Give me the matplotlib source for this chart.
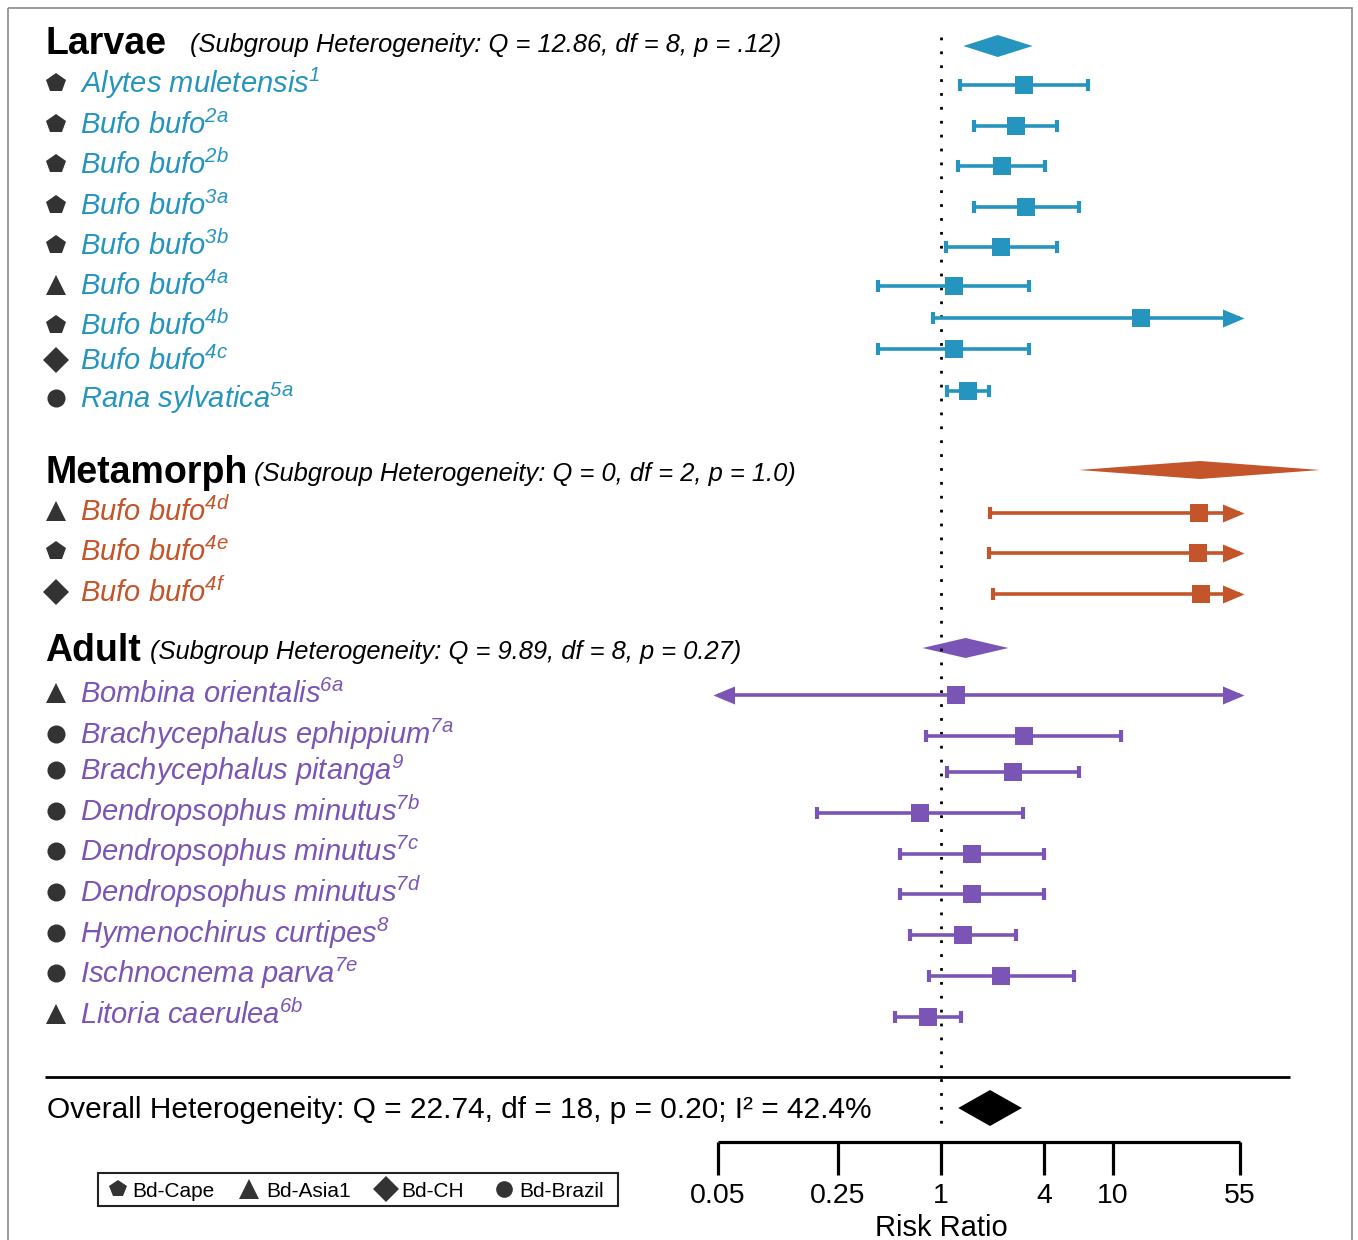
import numpy as np
import matplotlib
matplotlib.use("Agg")
import matplotlib.pyplot as plt
from matplotlib.path import Path
from matplotlib.patches import Rectangle

plt.rcParams['font.family'] = ['Liberation Sans', 'DejaVu Sans']
plt.rcParams['mathtext.fontset'] = 'custom'
plt.rcParams['mathtext.rm'] = 'Liberation Sans:italic'
plt.rcParams['mathtext.it'] = 'Liberation Sans:italic'

# ---- data (risk ratios) ----
groups = ["Larvae", "Metamorph", "Adult"]
group_het = ["(Subgroup Heterogeneity: Q = 12.86, df = 8, p = .12)",
             "(Subgroup Heterogeneity: Q = 0, df = 2, p = 1.0)",
             "(Subgroup Heterogeneity: Q = 9.89, df = 8, p = 0.27)"]
group_rr = [2.14, 32.3, 1.39]
group_lo = [1.35, 6.35, 0.78]
group_hi = [3.42, 162.0, 2.47]

species = ["Alytes muletensis", "Bufo bufo", "Bufo bufo", "Bufo bufo", "Bufo bufo",
           "Bufo bufo", "Bufo bufo", "Bufo bufo", "Rana sylvatica",
           "Bufo bufo", "Bufo bufo", "Bufo bufo",
           "Bombina orientalis", "Brachycephalus ephippium", "Brachycephalus pitanga",
           "Dendropsophus minutus", "Dendropsophus minutus", "Dendropsophus minutus",
           "Hymenochirus curtipes", "Ischnocnema parva", "Litoria caerulea"]
refs = ["1", "2a", "2b", "3a", "3b", "4a", "4b", "4c", "5a",
        "4d", "4e", "4f",
        "6a", "7a", "9", "7b", "7c", "7d", "8", "7e", "6b"]
group_of = [0] * 9 + [1] * 3 + [2] * 9
strain = ["Cape", "Cape", "Cape", "Cape", "Cape", "Asia1", "Cape", "CH", "Brazil",
          "Asia1", "Cape", "CH",
          "Asia1", "Brazil", "Brazil", "Brazil", "Brazil", "Brazil", "Brazil", "Brazil", "Asia1"]
rr = [3.03, 2.72, 2.26, 3.14, 2.24, 1.19, 14.6, 1.19, 1.43,
      31.9, 31.5, 32.9,
      1.22, 3.03, 2.62, 0.755, 1.51, 1.51, 1.34, 2.25, 0.836]
lo = [1.29, 1.56, 1.26, 1.56, 1.07, 0.431, 0.895, 0.431, 1.08,
      1.94, 1.91, 2.01,
      0.0, 0.818, 1.08, 0.189, 0.577, 0.577, 0.66, 0.851, 0.542]
hi = [7.16, 4.74, 4.02, 6.37, 4.72, 3.26, np.inf, 3.26, 1.90,
      np.inf, np.inf, np.inf,
      np.inf, 11.2, 6.35, 2.99, 3.98, 3.98, 2.75, 5.96, 1.31]

overall_rr, overall_lo, overall_hi = 1.93, 1.26, 2.96
overall_txt = "Overall Heterogeneity: Q = 22.74, df = 18, p = 0.20; I\u00b2 = 42.4%"

ticks = [0.05, 0.25, 1, 4, 10, 55]
tick_labels = ["0.05", "0.25", "1", "4", "10", "55"]
strain_names = ["Cape", "Asia1", "CH", "Brazil"]

# ---- layout (pixel rows) ----
W, H = 1358, 1240
X_ONE, PX_DEC = 941, 171.6           # pixel of RR=1, pixels per decade
header_base = [54, 483, 661]
subgroup_x = [190, 254, 150]
diamond_y = [46, 470, 648]
diamond_h = [11, 9, 10]
label_y = [83, 124, 164, 205, 245, 285, 325, 360, 398,
           511, 551, 592,
           693, 734, 770, 811, 851, 892, 933, 973, 1014]
mark_y = [85, 126, 166, 207, 247, 286, 318, 349, 391,
          513, 553, 594,
          695, 736, 772, 813, 854, 894, 935, 976, 1017]

colors = ["#2595bf", "#c4552a", "#7b55b5"]
dark = "#333333"
shape = {"Cape": "p", "Asia1": "^", "CH": "D", "Brazil": "o"}
shape_ms = {"Cape": 15, "Asia1": 15, "CH": 13, "Brazil": 13}

AX_MIN, AX_MAX = 0.05, 55
ARROW_LO, ARROW_HI = 0.047, 58
head_r = Path([(-1, -0.42), (0, 0), (-1, 0.42), (-1, -0.42)],
              [Path.MOVETO, Path.LINETO, Path.LINETO, Path.CLOSEPOLY])
head_l = Path([(1, -0.42), (0, 0), (1, 0.42), (1, -0.42)],
              [Path.MOVETO, Path.LINETO, Path.LINETO, Path.CLOSEPOLY])

fig = plt.figure(figsize=(W / 100, H / 100), dpi=100)
ax0 = fig.add_axes([0, 0, 1, 1])
ax0.set_xlim(0, W)
ax0.set_ylim(H, 0)
ax0.axis("off")

ax = fig.add_axes([0, 0, 1, 1])
ax.set_xscale("log")
ax.set_xlim(10 ** ((0 - X_ONE) / PX_DEC), 10 ** ((W - X_ONE) / PX_DEC))
ax.set_ylim(H, 0)
ax.axis("off")

# border
ax0.add_patch(Rectangle((8, 8), 1344, 1260, fill=False, ec="#8a8a8a", lw=1.2, clip_on=False))

# reference line
ax.vlines(1, 37, 1130, colors="black", linestyles=(0, (1, 4)), lw=2)

# group headers and summary diamonds
for g in range(3):
    ax0.text(45, header_base[g], groups[g], fontsize=27, fontweight="bold", va="baseline")
    ax0.text(subgroup_x[g], header_base[g] - 2, group_het[g], fontsize=18.4,
             style="italic", va="baseline")
    y, h = diamond_y[g], diamond_h[g]
    ax.fill([group_lo[g], group_rr[g], group_hi[g], group_rr[g]],
            [y, y - h, y, y + h], color=colors[g], lw=0)

# study rows
for i in range(len(species)):
    c = colors[group_of[i]]
    ax0.plot(56, label_y[i], marker=shape[strain[i]], ms=shape_ms[strain[i]],
             color=dark, mew=0)
    ax0.text(80, label_y[i] + 10, species[i] + "$^{" + refs[i] + "}$", fontsize=21,
             style="italic", color=c, va="baseline")

    y = mark_y[i]
    ax.hlines(y, max(lo[i], AX_MIN), min(hi[i], AX_MAX), color=c, lw=2.6)
    if lo[i] >= AX_MIN:
        ax.plot(lo[i], y, marker="|", ms=9, mew=3, color=c)
    else:
        ax.plot(ARROW_LO, y, marker=head_l, ms=31, color=c, mew=0)
    if hi[i] <= AX_MAX:
        ax.plot(hi[i], y, marker="|", ms=9, mew=3, color=c)
    else:
        ax.plot(ARROW_HI, y, marker=head_r, ms=31, color=c, mew=0)
    ax.plot(rr[i], y, marker="s", ms=13.5, color=c, mew=0)

# overall
ax0.hlines(1077, 45, 1290, color="black", lw=2)
ax0.text(47, 1118, overall_txt, fontsize=21.5, va="baseline")
ax.fill([overall_lo, overall_rr, overall_hi, overall_rr],
        [1108, 1090, 1108, 1126], color="black", lw=0)

# bottom axis
ax.hlines(1142, AX_MIN, AX_MAX, color="black", lw=2.3)
ax.vlines(ticks, 1142, 1175, color="black", lw=2.3)
for t, lab in zip(ticks, tick_labels):
    ax.text(t, 1203, lab, fontsize=20.5, ha="center", va="baseline")
ax.text(1, 1236, "Risk Ratio", fontsize=21, ha="center", va="baseline")

# strain legend
ax0.add_patch(Rectangle((98, 1173), 520, 33, fill=False, ec="#222222", lw=1.5))
leg_mx = [118, 249, 386, 504]
leg_tx = [132, 266, 401, 519]
leg_ms = [13, 14, 13, 12]
for k, s in enumerate(strain_names):
    ax0.plot(leg_mx[k], 1189, marker=shape[s], ms=leg_ms[k], color=dark, mew=0)
    ax0.text(leg_tx[k], 1197, "Bd-" + s, fontsize=15, va="baseline")

fig.savefig("out.png", dpi=100)
